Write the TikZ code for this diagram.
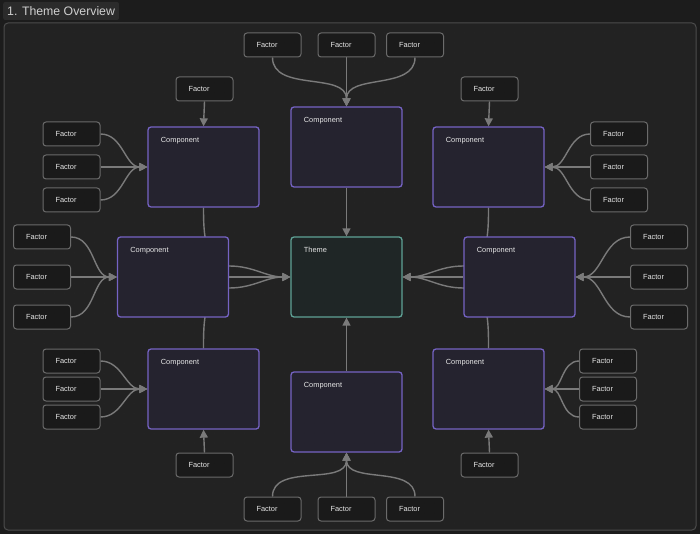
\documentclass[tikz,border=0pt]{standalone}
\usepackage{fontspec}
\setmainfont{Liberation Sans}
\usetikzlibrary{arrows.meta,positioning,calc}

\definecolor{canvas}{HTML}{1C1C1C}
\definecolor{framebg}{HTML}{222222}
\definecolor{frameline}{HTML}{4C4C4C}
\definecolor{titlebg}{HTML}{2B2B2B}
\definecolor{titletext}{HTML}{CFCFCF}
\definecolor{gridc}{HTML}{2D2D2D}
\definecolor{factorfill}{HTML}{1A1A1A}
\definecolor{factorline}{HTML}{6B6B6B}
\definecolor{labeltext}{HTML}{E6E6E6}
\definecolor{compfill}{HTML}{25232F}
\definecolor{compline}{HTML}{7563C4}
\definecolor{themefill}{HTML}{1F2626}
\definecolor{themeline}{HTML}{5FA296}
\definecolor{linkgray}{HTML}{7A7A7A}

\pgfdeclarelayer{bg}
\pgfdeclarelayer{links}
\pgfsetlayers{bg,links,main}

\begin{document}
\begin{tikzpicture}[x=1pt,y=-1pt,>={Triangle[length=8pt,width=8pt]},
                    every node/.append style={font=\fontsize{7.4}{9}\selectfont}]
  \tikzstyle{factor}=[draw=factorline,fill=factorfill,text=labeltext,line width=1pt,rounded corners=3pt,
                      minimum height=24pt,inner xsep=12.5pt,inner ysep=0pt,text width=32pt,align=left]
  \tikzstyle{comp}=[draw=compline,fill=compfill,line width=1.3pt,rounded corners=3pt,
                    minimum width=111pt,minimum height=80pt,inner sep=0pt]
  \tikzstyle{themebox}=[comp,draw=themeline,fill=themefill]
  \tikzstyle{caption}=[anchor=west,xshift=10pt,yshift=-14pt,text=labeltext]
  \tikzstyle{link}=[draw=linkgray,line width=1.4pt,->]

  \useasboundingbox (0,0) rectangle (700,534);
  \begin{pgfonlayer}{bg}
    \fill[canvas] (0,0) rectangle (700,534);
    \draw[frameline,fill=framebg,line width=1pt,rounded corners=4pt] (4,23) rectangle (696,530);
    \foreach \x in {14,24,...,690}
      \foreach \y in {33,43,...,523}
        \fill[gridc] (\x,\y) circle (0.5pt);
  \end{pgfonlayer}

  \node[fill=titlebg,text=titletext,rounded corners=2pt,anchor=west,minimum height=18pt,inner xsep=4pt,
        font=\fontsize{12.3}{14}\selectfont] (title) at (3,11) {1. Theme Overview};

  % middle column
  \node[themebox,label={[caption]north west:Theme}] (th) at (346.5,277) {};
  \node[comp,label={[caption]north west:Component}] (ct) at (346.5,147) {};
  \node[comp,label={[caption]north west:Component}] (cb) at (346.5,412) {};
  % left and right
  \node[comp,label={[caption]north west:Component}] (ctl) at (203.5,167) {};
  \node[comp,label={[caption]north west:Component}] (cl)  at (173,277) {};
  \node[comp,label={[caption]north west:Component}] (cbl) at (203.5,389) {};
  \node[comp,label={[caption]north west:Component}] (ctr) at (488.5,167) {};
  \node[comp,label={[caption]north west:Component}] (cr)  at (519.5,277) {};
  \node[comp,label={[caption]north west:Component}] (cbr) at (488.5,389) {};

  % factors
  \node[factor] (ft1) at (272.5,45) {Factor};
  \node[factor] (ft2) at (346.5,45) {Factor};
  \node[factor] (ft3) at (415,45) {Factor};
  \node[factor] (fb1) at (272.5,509) {Factor};
  \node[factor] (fb2) at (346.5,509) {Factor};
  \node[factor] (fb3) at (415,509) {Factor};

  \node[factor] (ftl0) at (204.5,89) {Factor};
  \node[factor] (ftl1) at (71.5,134) {Factor};
  \node[factor] (ftl2) at (71.5,167) {Factor};
  \node[factor] (ftl3) at (71.5,200) {Factor};
  \node[factor] (fl1) at (42,237) {Factor};
  \node[factor] (fl2) at (42,277) {Factor};
  \node[factor] (fl3) at (42,317) {Factor};
  \node[factor] (fbl1) at (71.5,361) {Factor};
  \node[factor] (fbl2) at (71.5,389) {Factor};
  \node[factor] (fbl3) at (71.5,417) {Factor};
  \node[factor] (fbl0) at (204.5,465) {Factor};

  \node[factor] (ftr0) at (489.5,89) {Factor};
  \node[factor] (ftr1) at (619,134) {Factor};
  \node[factor] (ftr2) at (619,167) {Factor};
  \node[factor] (ftr3) at (619,200) {Factor};
  \node[factor] (fr1) at (659,237) {Factor};
  \node[factor] (fr2) at (659,277) {Factor};
  \node[factor] (fr3) at (659,317) {Factor};
  \node[factor] (fbr1) at (608,361) {Factor};
  \node[factor] (fbr2) at (608,389) {Factor};
  \node[factor] (fbr3) at (608,417) {Factor};
  \node[factor] (fbr0) at (489.5,465) {Factor};

  \begin{pgfonlayer}{links}
  \begin{scope}[->,every edge/.style={draw=linkgray,line width=1.4pt}]
  \path (ft1.south) edge [out=-90,in=90] (ct.north)
        (ft2.south) edge [out=-90,in=90] (ct.north)
        (ft3.south) edge [out=-90,in=90] (ct.north)
        (fb1.north) edge [out=90,in=-90] (cb.south)
        (fb2.north) edge [out=90,in=-90] (cb.south)
        (fb3.north) edge [out=90,in=-90] (cb.south)
        (ct) edge (th)
        (cb) edge (th);

  \path (ftl0.south) edge (ctl.north)
        (ftl1.east) edge [out=0,in=180] (ctl.west)
        (ftl2.east) edge [out=0,in=180] (ctl.west)
        (ftl3.east) edge [out=0,in=180] (ctl.west)
        (fl1.east) edge [out=0,in=180] (cl.west)
        (fl2.east) edge [out=0,in=180] (cl.west)
        (fl3.east) edge [out=0,in=180] (cl.west)
        (fbl1.east) edge [out=0,in=180] (cbl.west)
        (fbl2.east) edge [out=0,in=180] (cbl.west)
        (fbl3.east) edge [out=0,in=180] (cbl.west)
        (fbl0.north) edge (cbl.south)
        (cl.east) edge (th.west);

  \path (ftr0.south) edge (ctr.north)
        (ftr1.west) edge [out=180,in=0] (ctr.east)
        (ftr2.west) edge [out=180,in=0] (ctr.east)
        (ftr3.west) edge [out=180,in=0] (ctr.east)
        (fr1.west) edge [out=180,in=0] (cr.east)
        (fr2.west) edge [out=180,in=0] (cr.east)
        (fr3.west) edge [out=180,in=0] (cr.east)
        (fbr1.west) edge [out=180,in=0] (cbr.east)
        (fbr2.west) edge [out=180,in=0] (cbr.east)
        (fbr3.west) edge [out=180,in=0] (cbr.east)
        (fbr0.north) edge (cbr.south)
        (cr.west) edge (th.east);
  \end{scope}
  % corner components run behind the side ones
  \draw[link] (ctl.south) to[out=-90,in=180] ($(cl.east)+(0,-11)$) to[out=0,in=180] (th.west);
  \draw[link] (cbl.north) to[out=90,in=180] ($(cl.east)+(0,11)$) to[out=0,in=180] (th.west);
  \draw[link] (ctr.south) to[out=-90,in=0] ($(cr.west)+(0,-11)$) to[out=180,in=0] (th.east);
  \draw[link] (cbr.north) to[out=90,in=0] ($(cr.west)+(0,11)$) to[out=180,in=0] (th.east);
  \end{pgfonlayer}
\end{tikzpicture}
\end{document}
